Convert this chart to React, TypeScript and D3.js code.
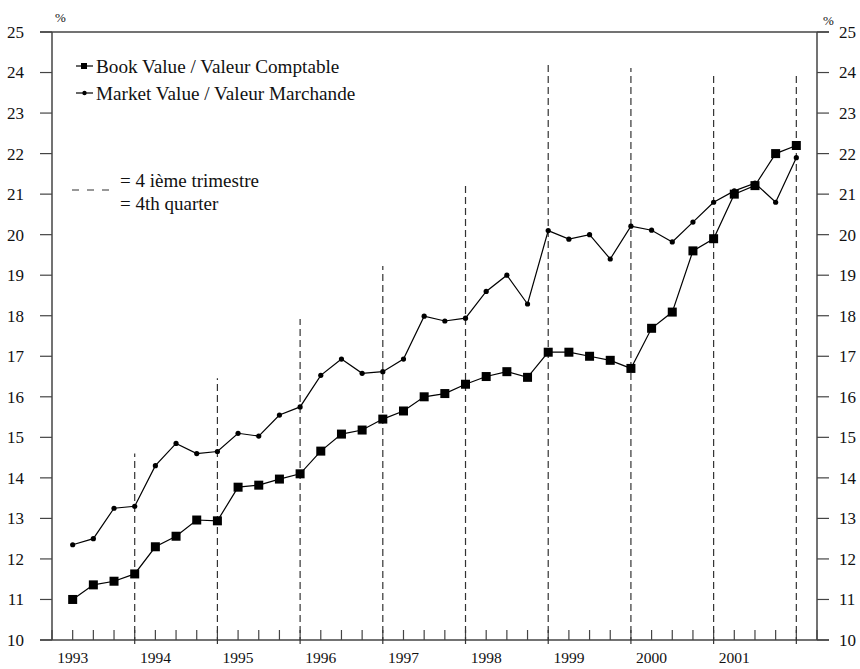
import * as d3 from 'd3';
import React from 'react';

// quarterly, 1993Q1 .. 2001Q4
const years = ['1993', '1994', '1995', '1996', '1997', '1998', '1999', '2000', '2001'];

const bookValue = [
  11.0, 11.36, 11.45, 11.63,
  12.3, 12.56, 12.96, 12.94,
  13.77, 13.82, 13.97, 14.1,
  14.66, 15.08, 15.18, 15.45,
  15.65, 16.0, 16.08, 16.31,
  16.5, 16.62, 16.48, 17.1,
  17.1, 17.0, 16.9, 16.7,
  17.69, 18.09, 19.6, 19.9,
  21.0, 21.21, 22.0, 22.2,
];

const marketValue = [
  12.35, 12.5, 13.25, 13.3,
  14.3, 14.85, 14.6, 14.65,
  15.1, 15.03, 15.55, 15.75,
  16.53, 16.93, 16.58, 16.62,
  16.93, 17.99, 17.87, 17.94,
  18.6, 19.0, 18.29, 20.1,
  19.89, 20.0, 19.4, 20.21,
  20.11, 19.82, 20.31, 20.8,
  21.08, 21.27, 20.8, 21.9,
];

// top of each dashed 4th-quarter marker, in % units
const q4MarkerTops = [14.6, 16.46, 17.92, 19.23, 21.23, 24.26, 24.11, 23.92, 23.94];

const yTicks = [10, 11, 12, 13, 14, 15, 16, 17, 18, 19, 20, 21, 22, 23, 24, 25];

const W = 860;
const H = 669;
const left = 52;
const right = 817;
const top = 32;
const bottom = 640;
const txt = { fontFamily: "'Liberation Serif'" };
const axisColor = '#444';

export default function App() {
  const x = d3.scaleLinear().domain([-1, 36]).range([left, right]);
  const y = d3.scaleLinear().domain([10, 25]).range([bottom, top]);

  const line = d3.line<number>()
    .x((_, i) => x(i))
    .y(d => y(d));

  const quarterIdx = d3.range(-1, 37);

  return (
    <svg width={W} height={H} style={{ position: 'absolute', left: 0, top: 0, background: '#fff' }}>
      {/* frame */}
      <line x1={left} x2={left} y1={top} y2={bottom} stroke={axisColor} strokeWidth={1.5} />
      <line x1={right} x2={right} y1={top} y2={bottom} stroke={axisColor} strokeWidth={1.5} />
      <line x1={left - 12} x2={right + 12} y1={bottom} y2={bottom} stroke={axisColor} strokeWidth={1.5} />
      <line x1={left - 12} x2={right + 12} y1={top} y2={top} stroke={axisColor} strokeWidth={1.5} />

      {/* y ticks both sides */}
      {yTicks.map(t => (
        <g key={t}>
          <line x1={left - 12} x2={left} y1={y(t)} y2={y(t)} stroke={axisColor} strokeWidth={1.2} />
          <line x1={right} x2={right + 12} y1={y(t)} y2={y(t)} stroke={axisColor} strokeWidth={1.2} />
          <text style={txt} x={24} y={y(t)} dy="0.35em" textAnchor="end" fontSize={17} fill="#111">{t}</text>
          <text style={txt} x={839} y={y(t)} dy="0.35em" textAnchor="start" fontSize={17} fill="#111">{t}</text>
        </g>
      ))}
      <text style={txt} x={55} y={22} fontSize={13} fill="#111">%</text>
      <text style={txt} x={823} y={25} fontSize={13} fill="#111">%</text>

      {/* x quarter ticks */}
      {quarterIdx.map(i => (
        <line key={i} x1={x(i)} x2={x(i)} y1={bottom} y2={bottom - 10} stroke={axisColor} strokeWidth={1.2} />
      ))}
      {years.map((yr, k) => (
        <text style={txt} key={yr} x={x(k * 4)} y={663} textAnchor="middle" fontSize={15.5} fill="#111">{yr}</text>
      ))}

      {/* 4th quarter dashed markers */}
      {q4MarkerTops.map((v, k) => (
        <line key={k} x1={x(k * 4 + 3)} x2={x(k * 4 + 3)} y1={bottom + 4} y2={y(v)}
          stroke="#333" strokeWidth={1.2} strokeDasharray="7,4" />
      ))}

      {/* series */}
      <path d={line(marketValue) ?? ''} fill="none" stroke="#000" strokeWidth={1.2} />
      <path d={line(bookValue) ?? ''} fill="none" stroke="#000" strokeWidth={1.2} />
      {marketValue.map((v, i) => (
        <circle key={i} cx={x(i)} cy={y(v)} r={2.6} fill="#000" />
      ))}
      {bookValue.map((v, i) => (
        <rect key={i} x={x(i) - 4.5} y={y(v) - 4.5} width={9} height={9} fill="#000" />
      ))}

      {/* legend */}
      <line x1={76} x2={93} y1={66} y2={66} stroke="#000" strokeWidth={1.2} />
      <rect x={81} y={63} width={6} height={6} fill="#000" />
      <text style={txt} x={96} y={66} dy="0.35em" fontSize={19.2} fill="#111">Book Value / Valeur Comptable</text>
      <line x1={76} x2={93} y1={93} y2={93} stroke="#000" strokeWidth={1.2} />
      <circle cx={84.5} cy={93} r={2.2} fill="#000" />
      <text style={txt} x={96} y={93} dy="0.35em" fontSize={19.2} fill="#111">Market Value / Valeur Marchande</text>

      <line x1={72} x2={110} y1={190} y2={190} stroke="#333" strokeWidth={1.2} strokeDasharray="7,8" />
      <text style={txt} x={120} y={187} fontSize={19} fill="#111">= 4 ième trimestre</text>
      <text style={txt} x={120} y={210} fontSize={19} fill="#111">= 4th quarter</text>
    </svg>
  );
}
